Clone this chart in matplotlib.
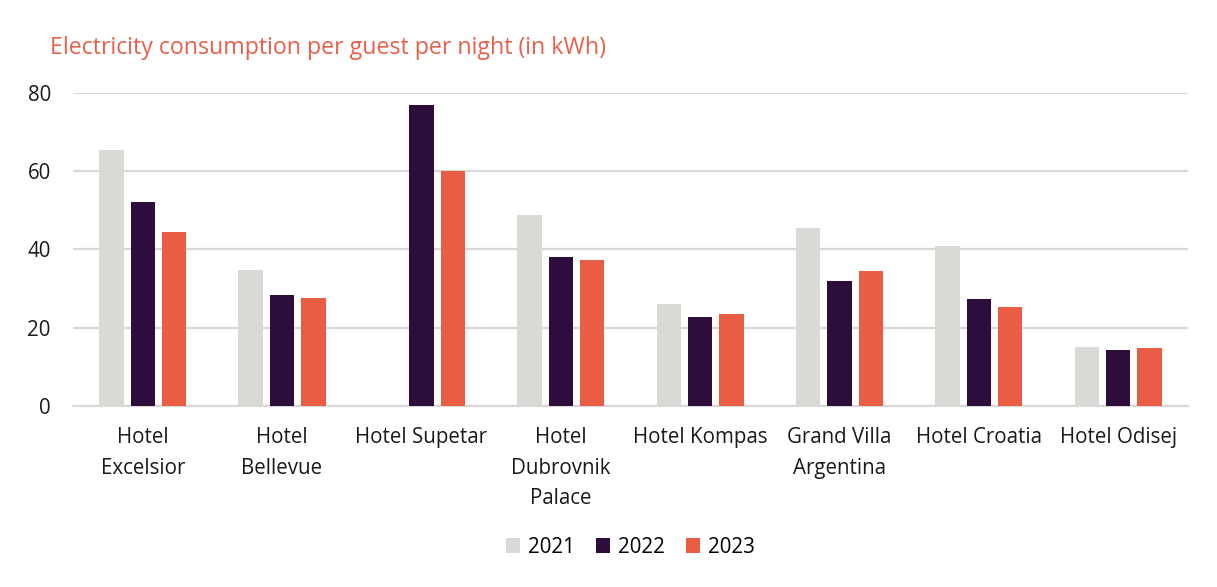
import numpy as np
import matplotlib.pyplot as plt

plt.rcParams['font.family'] = ['Open Sans', 'DejaVu Sans']

hotels = ["Hotel\nExcelsior", "Hotel\nBellevue", "Hotel Supetar", "Hotel\nDubrovnik\nPalace",
          "Hotel Kompas", "Grand Villa\nArgentina", "Hotel Croatia", "Hotel Odisej"]
years = ["2021", "2022", "2023"]
v2021 = [65.4, 34.7, 0, 48.7, 26.1, 45.4, 41.0, 15.0]
v2022 = [52.1, 28.4, 77.0, 38.2, 22.7, 31.9, 27.4, 14.4]
v2023 = [44.4, 27.7, 60.1, 37.3, 23.5, 34.6, 25.4, 14.8]
colors = ["#D9D9D5", "#2D0D3B", "#E85D44"]

fig = plt.figure(figsize=(12.17, 5.87), dpi=100)
ax = fig.add_axes([0.06, 0.308, 0.916, 0.534])

x = np.arange(len(hotels))
w = 0.175
step = 0.225
for i, (vals, c, yr) in enumerate(zip([v2021, v2022, v2023], colors, years)):
    ax.bar(x + (i - 1) * step, vals, width=w, color=c, label=yr, zorder=3)

ax.set_xlim(-0.5, len(hotels) - 0.5)
ax.set_ylim(0, 80)
ax.set_yticks([0, 20, 40, 60, 80])
ax.yaxis.grid(True, color="#D9D9D9", linewidth=1.6, zorder=0)
ax.set_axisbelow(True)
for s in ["top", "right", "left"]:
    ax.spines[s].set_visible(False)
ax.spines["bottom"].set_color("#D9D9D9")
ax.spines["bottom"].set_linewidth(1.6)
ax.tick_params(axis="both", length=0, labelsize=14.8, colors="#1a1a1a")
ax.tick_params(axis="y", pad=16)
ax.tick_params(axis="x", pad=15)
ax.set_xticks(x)
ax.set_xticklabels(hotels, linespacing=1.6)

fig.text(0.041, 0.918, "Electricity consumption per guest per night (in kWh)",
         color="#E8604A", fontsize=16.7, ha="left", va="center")

ax.legend(loc="center", bbox_to_anchor=(0.5, -0.45), ncol=3, frameon=False,
          fontsize=14.8, handlelength=0.7, handleheight=0.7, handletextpad=0.4,
          columnspacing=1.0)

fig.savefig("out.png", dpi=100)
